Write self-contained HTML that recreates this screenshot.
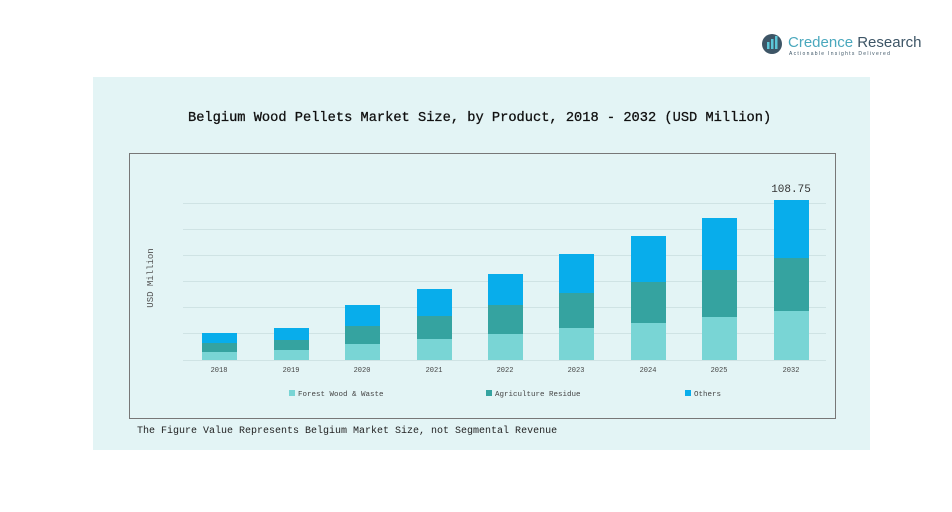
<!DOCTYPE html>
<html><head><meta charset="utf-8"><style>
body{margin:0;width:952px;height:512px;background:#fff;position:relative;overflow:hidden;font-family:"Liberation Mono","Noto Sans CJK SC",monospace}
</style></head><body>
<svg width="952" height="512" style="position:absolute;left:0;top:0">
<rect x="93" y="77" width="777" height="373" fill="#e3f4f5"/>
<text x="188" y="121" font-family="Liberation Mono,monospace" font-size="13.7" fill="#111" stroke="#111" stroke-width="0.3">Belgium Wood Pellets Market Size, by Product, 2018 - 2032 (USD Million)</text>
<rect x="129.5" y="153.5" width="706" height="265" fill="none" stroke="#777" stroke-width="1"/>
<g stroke="#cfe3e4" stroke-width="1">
<line x1="183" x2="826" y1="203.5" y2="203.5"/><line x1="183" x2="826" y1="229.5" y2="229.5"/>
<line x1="183" x2="826" y1="255.5" y2="255.5"/><line x1="183" x2="826" y1="281.5" y2="281.5"/>
<line x1="183" x2="826" y1="307.5" y2="307.5"/><line x1="183" x2="826" y1="333.5" y2="333.5"/>
<line x1="183" x2="826" y1="360.5" y2="360.5"/>
</g>
<text transform="translate(153,278) rotate(-90)" text-anchor="middle" font-size="9" fill="#555">USD Million</text>
<g id="bars"></g>
<g font-size="7" fill="#444" text-anchor="middle">
<text x="219" y="372">2018</text><text x="291" y="372">2019</text><text x="362" y="372">2020</text>
<text x="434" y="372">2021</text><text x="505" y="372">2022</text><text x="576" y="372">2023</text>
<text x="648" y="372">2024</text><text x="719" y="372">2025</text><text x="791" y="372">2032</text>
</g>
<text x="791" y="192" text-anchor="middle" font-size="11" fill="#333">108.75</text>
<g font-size="7.5" fill="#444">
<rect x="289" y="390" width="6" height="6" fill="#79d5d5"/><text x="298" y="396">Forest Wood &amp; Waste</text>
<rect x="486" y="390" width="6" height="6" fill="#35a3a0"/><text x="495" y="396">Agriculture Residue</text>
<rect x="685" y="390" width="6" height="6" fill="#08adeb"/><text x="694" y="396">Others</text>
</g>
<text x="137" y="433" font-size="10" fill="#222">The Figure Value Represents Belgium Market Size, not Segmental Revenue</text>
<g>
<circle cx="772" cy="44" r="10" fill="#3d5566"/>
<rect x="767" y="42" width="2.5" height="7" fill="#5cc6d8"/><rect x="771" y="39" width="2.5" height="10" fill="#5cc6d8"/><rect x="775" y="36" width="2.5" height="13" fill="#5cc6d8"/>
<text x="788" y="47" font-family="Liberation Sans,sans-serif" font-size="15" fill="#4aa8bd">Credence <tspan fill="#3d5566">Research</tspan></text>
<text x="789" y="55" font-family="Liberation Sans,sans-serif" font-size="5" fill="#3d5566" letter-spacing="1.3">Actionable Insights Delivered</text>
</g>
</svg>
<script>
var d=[[202,333,343,352],[274,328,340,350],[345,305,326,344],[417,289,316,339],[488,274,305,334],[559,254,293,328],[631,236,282,323],[702,218,270,317],[774,200,258,311]];
var s='';d.forEach(function(b){var x=b[0];
s+='<rect x="'+x+'" y="'+b[1]+'" width="35" height="'+(b[2]-b[1])+'" fill="#08adeb"/>';
s+='<rect x="'+x+'" y="'+b[2]+'" width="35" height="'+(b[3]-b[2])+'" fill="#35a3a0"/>';
s+='<rect x="'+x+'" y="'+b[3]+'" width="35" height="'+(360-b[3])+'" fill="#79d5d5"/>';});
document.getElementById('bars').innerHTML=s;
</script>
</body></html>
